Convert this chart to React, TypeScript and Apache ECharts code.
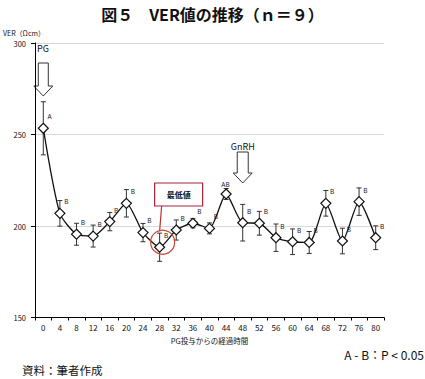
import React, { useEffect, useRef } from "react";
import * as echarts from "echarts";

const hours = ["0","4","8","12","16","20","24","28","32","36","40","44","48","52","56","60","64","68","72","76","80"];
const means = [253.4, 206.9, 195.5, 194.5, 202.4, 212.4, 196.4, 188.4, 197.8, 201.5, 198.7, 217.5, 201.8, 201.5, 193.6, 191.4, 191.0, 212.4, 191.8, 213.3, 193.6];
const errors = [14.5, 7, 6, 6, 5, 7.5, 5, 7.7, 5.5, 2.5, 3, 3, 10, 6.5, 7.5, 7, 6, 7, 7, 7.5, 6.5];
const letters = ["A","B","B","B","B","B","B","B","B","B","B","AB","B","B","B","B","B","B","B","B","B"];
const yTicks = { min: 150, max: 300, interval: 50 };
const lowestIndex = 7;
const gnrhIndex = 12;

const JP = "'Noto Sans CJK JP', 'Noto Sans', sans-serif";

export default function App() {
  const ref = useRef<HTMLDivElement>(null);
  useEffect(() => {
    if (!ref.current) return;
    const chart = echarts.init(ref.current, null, { renderer: "svg" });
    const option: any = {
      animation: false,
      backgroundColor: "#ffffff",
      textStyle: { fontFamily: JP },
      title: {
        text: "図５　VER値の推移（ｎ＝９）",
        left: "center",
        top: 1,
        textStyle: { fontSize: 16, fontWeight: "bold", color: "#111", fontFamily: JP },
      },
      grid: { left: 34, right: 41, top: 43, bottom: 61.5 },
      xAxis: {
        type: "category",
        data: hours,
        boundaryGap: true,
        axisLine: { lineStyle: { color: "#000", width: 1 } },
        axisTick: { show: true, length: 3, lineStyle: { color: "#000" } },
        axisLabel: { fontSize: 8, color: "#111", margin: 6 },
        name: "PG投与からの経過時間",
        nameLocation: "middle",
        nameGap: 17,
        nameTextStyle: { fontSize: 7.5, color: "#111" },
        splitLine: { show: false },
      },
      yAxis: {
        type: "value",
        min: yTicks.min,
        max: yTicks.max,
        interval: yTicks.interval,
        axisLine: { show: true, lineStyle: { color: "#000", width: 1 } },
        axisTick: { show: true, length: 4, lineStyle: { color: "#000" } },
        axisLabel: { fontSize: 7.5, color: "#111", margin: 9 },
        splitLine: { show: true, lineStyle: { color: "#d9d9d9", width: 1 } },
        name: "VER（Ωcm）",
        nameLocation: "end",
        nameGap: 7,
        nameTextStyle: { fontSize: 7, color: "#111", align: "center", padding: [0, 0, 0, -22] },
      },
      series: [
        {
          type: "custom",
          z: 1,
          renderItem: (params: any, api: any) => {
            const i = api.value(0);
            const m = api.value(1);
            const e = api.value(2);
            const top = api.coord([i, m + e]);
            const bot = api.coord([i, m - e]);
            const w = 2.5;
            const st = { stroke: "#333", lineWidth: 1 };
            return {
              type: "group",
              children: [
                { type: "line", shape: { x1: top[0], y1: top[1], x2: bot[0], y2: bot[1] }, style: st },
                { type: "line", shape: { x1: top[0] - w, y1: top[1], x2: top[0] + w, y2: top[1] }, style: st },
                { type: "line", shape: { x1: bot[0] - w, y1: bot[1], x2: bot[0] + w, y2: bot[1] }, style: st },
              ],
            };
          },
          data: means.map((m, i) => [i, m, errors[i]]),
        },
        {
          type: "line",
          z: 3,
          smooth: 0.22,
          symbol: "diamond",
          symbolSize: 10,
          lineStyle: { color: "#111", width: 1.3 },
          itemStyle: { color: "#fff", borderColor: "#111", borderWidth: 1.2 },
          label: { show: true, color: "#222", fontSize: 6.5, fontFamily: "'Noto Sans', sans-serif" },
          data: means.map((m, i) => ({
            value: m,
            label: {
              show: true,
              formatter: letters[i],
              position: letters[i].length > 1 ? [5, -4] : [12, -6],
              align: "center",
              verticalAlign: "middle",
              fontSize: 6.5,
              color: "#222",
            },
          })),
        },
      ],
    };
    chart.setOption(option);

    const p0 = chart.convertToPixel({ xAxisIndex: 0, yAxisIndex: 0 }, [0, 300]) as number[];
    const pg = chart.convertToPixel({ xAxisIndex: 0, yAxisIndex: 0 }, [gnrhIndex, 300]) as number[];
    const low = chart.convertToPixel({ xAxisIndex: 0, yAxisIndex: 0 }, [lowestIndex, means[lowestIndex]]) as number[];

    const arrow = (cx: number, top: number, headStart: number, tip: number, sw: number, hw: number) => [
      [cx - sw, top], [cx + sw, top], [cx + sw, headStart], [cx + hw, headStart],
      [cx, tip], [cx - hw, headStart], [cx - sw, headStart],
    ];
    const arrowStyle = { fill: "#fff", stroke: "#333", lineWidth: 1 };

    chart.setOption({
      graphic: [
        { type: "text", left: 37, top: 44, style: { text: "PG", fontSize: 9, fill: "#111", fontFamily: JP } },
        { type: "polygon", shape: { points: arrow(p0[0], 63, 86, 96, 5, 9.5) }, style: arrowStyle },
        { type: "text", x: pg[0], y: 146, style: { text: "GnRH", fontSize: 9, fill: "#111", fontFamily: JP, align: "center", verticalAlign: "middle" } },
        { type: "polygon", shape: { points: arrow(pg[0], 152, 173, 183, 5.5, 9.5) }, style: arrowStyle },
        { type: "rect", shape: { x: low[0] - 5, y: 183, width: 48, height: 23 }, style: { fill: "#fff", stroke: "#a8233a", lineWidth: 1.2 }, z: 10 },
        { type: "text", x: low[0] + 19, y: 194.5, z: 11, style: { text: "最低値", fontSize: 8, fontWeight: "bold", fill: "#111", fontFamily: JP, align: "center", verticalAlign: "middle" } },
        { type: "line", shape: { x1: low[0] + 2, y1: 206, x2: low[0], y2: low[1] - 16 }, style: { stroke: "#c0302f", lineWidth: 1.2 }, z: 10 },
        { type: "circle", shape: { cx: low[0] + 3, cy: low[1] - 5, r: 12 }, style: { fill: "none", stroke: "#cc4a33", lineWidth: 1.2 }, z: 10 },
        { type: "text", right: 1, top: 348, style: { text: "A - B：P < 0.05", fontSize: 12, fill: "#111", fontFamily: JP } },
        { type: "text", left: 22, top: 364, style: { text: "資料：筆者作成", fontSize: 11.5, fill: "#111", fontFamily: JP } },
      ],
    });

    return () => chart.dispose();
  }, []);
  return <div ref={ref} style={{ position: "fixed", left: 0, top: 0, width: 425, height: 379 }} />;
}
